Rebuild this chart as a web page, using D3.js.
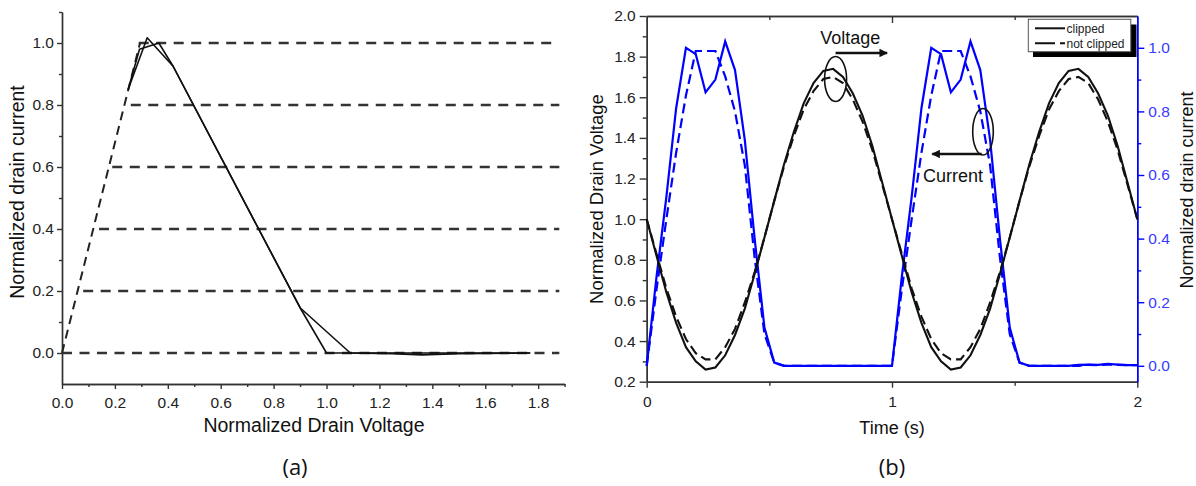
<!DOCTYPE html>
<html><head><meta charset="utf-8">
<script src="https://cdn.jsdelivr.net/npm/d3@7"></script>
<style>
body{margin:0;background:#fff;}
svg{display:block;font-family:"Liberation Sans",Arial,sans-serif;}
</style></head><body>
<svg id="c" width="1196" height="486"></svg>
<script>
// ================= Panel (a) data =================
const ivLevels      = [0.0, 0.2, 0.4, 0.6, 0.8, 1.0];
const ivLevelStartV = [0.0, 0.08, 0.14, 0.19, 0.26, 0.29];
const ivLevelEndV   = [1.88, 1.88, 1.88, 1.88, 1.88, 1.85];
const kneeV = [0.0, 0.295];
const kneeI = [0.0, 1.0];
const loadAV = [0.25, 0.322, 0.42, 0.90, 1.00, 1.77];
const loadAI = [0.85, 1.017, 0.925, 0.146, 0.0, 0.0];
const loadBV = [0.25, 0.293, 0.366, 0.42, 0.90, 1.09, 1.25, 1.36, 1.50, 1.77];
const loadBI = [0.85, 0.98, 1.00, 0.925, 0.146, 0.0, -0.002, -0.006, -0.002, 0.0];
const aXTicks = [0.0, 0.2, 0.4, 0.6, 0.8, 1.0, 1.2, 1.4, 1.6, 1.8];
const aXMinor = [0.1, 0.3, 0.5, 0.7, 0.9, 1.1, 1.3, 1.5, 1.7, 1.9];
const aYTicks = [0.0, 0.2, 0.4, 0.6, 0.8, 1.0];
const aYMinor = [0.1, 0.3, 0.5, 0.7, 0.9, 1.1];

// ================= Panel (b) data =================
const timeS = [0.00,0.04,0.08,0.12,0.16,0.20,0.24,0.28,0.32,0.36,0.40,0.44,0.48,0.52,0.56,0.60,0.64,0.68,0.72,0.76,0.80,0.84,0.88,0.92,0.96,
               1.00,1.04,1.08,1.12,1.16,1.20,1.24,1.28,1.32,1.36,1.40,1.44,1.48,1.52,1.56,1.60,1.64,1.68,1.72,1.76,1.80,1.84,1.88,1.92,1.96,2.00];
const voltClipped = [1.00,0.82,0.64,0.49,0.37,0.30,0.26,0.27,0.33,0.43,0.56,0.73,0.91,1.09,1.27,1.43,1.57,1.67,1.73,1.74,1.70,1.62,1.51,1.36,1.18,
                     1.00,0.82,0.64,0.49,0.37,0.30,0.26,0.27,0.33,0.43,0.56,0.73,0.91,1.09,1.27,1.43,1.57,1.67,1.73,1.74,1.70,1.62,1.51,1.36,1.18,1.00];
const voltNotClipped = [1.00,0.83,0.66,0.52,0.41,0.34,0.31,0.31,0.37,0.46,0.59,0.74,0.91,1.09,1.26,1.41,1.54,1.63,1.69,1.70,1.67,1.59,1.48,1.34,1.17,
                        1.00,0.83,0.66,0.52,0.41,0.34,0.31,0.31,0.37,0.46,0.59,0.74,0.91,1.09,1.26,1.41,1.54,1.63,1.69,1.70,1.67,1.59,1.48,1.34,1.17,1.00];
const currClipped = [0.00,0.28,0.53,0.81,1.00,0.98,0.86,0.90,1.02,0.93,0.71,0.40,0.12,0.01,0.00,0.00,0.00,0.00,0.00,0.00,0.00,0.00,0.00,0.00,0.00,
                     0.00,0.28,0.53,0.81,1.00,0.98,0.86,0.90,1.02,0.93,0.71,0.40,0.12,0.01,0.00,0.00,0.00,0.00,0.00,0.003,0.004,0.003,0.006,0.004,0.002,0.002];
const currNotClipped = [0.00,0.24,0.46,0.67,0.85,0.99,0.99,0.99,0.91,0.80,0.63,0.34,0.10,0.01,0.00,0.00,0.00,0.00,0.00,0.00,0.00,0.00,0.00,0.00,0.00,
                        0.00,0.24,0.46,0.67,0.85,0.99,0.99,0.99,0.91,0.80,0.63,0.34,0.10,0.01,0.00,0.00,0.00,0.00,0.00,0.00,0.003,0.002,0.004,0.003,0.002,0.002];
const bXTicks = [0, 1, 2];
const bXMinor = [0.5, 1.5];
const bY1Ticks = [0.2,0.4,0.6,0.8,1.0,1.2,1.4,1.6,1.8,2.0];
const bY1Minor = [0.3,0.5,0.7,0.9,1.1,1.3,1.5,1.7,1.9];
const bY2Ticks = [0.0,0.2,0.4,0.6,0.8,1.0];
const bY2Minor = [0.1,0.3,0.5,0.7,0.9];
const legendLabels = ["clipped", "not clipped"];

// ================= drawing =================
const svg = d3.select("#c");
const axisCol = "#333";
const blue = "#0000ff";
const blueText = "#3a3aff";

function styleAxis(g, col, fs, tcol) {
  g.select(".domain").attr("stroke", col).attr("stroke-width", 1.4);
  g.selectAll(".tick line").attr("stroke", col).attr("stroke-width", 1.4);
  g.selectAll(".tick text").attr("font-size", fs).attr("fill", tcol || "#222")
    .attr("font-family", '"Liberation Sans",Arial,sans-serif');
}

// ---------- Panel (a) ----------
const xA = d3.scaleLinear().domain([0, 1.9]).range([62, 564.6]);
const yA = d3.scaleLinear().domain([-0.1, 1.1]).range([384, 12]);

svg.append("g").attr("transform", `translate(0,${yA(-0.1)})`)
  .call(d3.axisBottom(xA).tickValues(aXMinor).tickSize(3).tickSizeOuter(0).tickFormat(""))
  .call(g => styleAxis(g, axisCol, 15));
svg.append("g").attr("transform", `translate(${xA(0)},0)`)
  .call(d3.axisLeft(yA).tickValues(aYMinor).tickSize(3).tickSizeOuter(0).tickFormat(""))
  .call(g => styleAxis(g, axisCol, 15));
svg.append("g").attr("transform", `translate(0,${yA(-0.1)})`)
  .call(d3.axisBottom(xA).tickValues(aXTicks).tickSize(5).tickSizeOuter(0).tickPadding(8).tickFormat(d3.format(".1f")))
  .call(g => styleAxis(g, axisCol, 15.5));
svg.append("g").attr("transform", `translate(${xA(0)},0)`)
  .call(d3.axisLeft(yA).tickValues(aYTicks).tickSize(5).tickSizeOuter(0).tickPadding(3).tickFormat(d3.format(".1f")))
  .call(g => styleAxis(g, axisCol, 15.5));

const lineA = d3.line().x(d => xA(d[0])).y(d => yA(d[1]));
ivLevels.forEach((lv, i) => {
  svg.append("path").attr("d", lineA([[ivLevelStartV[i], lv], [ivLevelEndV[i], lv]]))
    .attr("fill", "none").attr("stroke", "#333").attr("stroke-width", 2.3).attr("stroke-dasharray", "10,7.5");
});
svg.append("path").attr("d", lineA(kneeV.map((v, i) => [v, kneeI[i]])))
  .attr("fill", "none").attr("stroke", "#222").attr("stroke-width", 2).attr("stroke-dasharray", "9,6");
svg.append("path").attr("d", lineA(loadAV.map((v, i) => [v, loadAI[i]])))
  .attr("fill", "none").attr("stroke", "#111").attr("stroke-width", 1.6).attr("stroke-linejoin", "round");
svg.append("path").attr("d", lineA(loadBV.map((v, i) => [v, loadBI[i]])))
  .attr("fill", "none").attr("stroke", "#111").attr("stroke-width", 1.6).attr("stroke-linejoin", "round");

svg.append("text").attr("x", 314).attr("y", 432).attr("text-anchor", "middle")
  .attr("font-size", 19.5).attr("fill", "#111").text("Normalized Drain Voltage");
svg.append("text").attr("transform", "translate(24,192) rotate(-90)").attr("text-anchor", "middle")
  .attr("font-size", 19.5).attr("fill", "#111").text("Normalized drain current");
svg.append("text").attr("x", 295).attr("y", 475).attr("text-anchor", "middle")
  .attr("font-family", '"Open Sans",sans-serif').attr("font-size", 22).attr("fill", "#111").text("(a)");

// ---------- Panel (b) ----------
const xB = d3.scaleLinear().domain([0, 2]).range([646.7, 1137.3]);
const yB1 = d3.scaleLinear().domain([0.2, 2.0]).range([381.7, 16]);
const yB2 = d3.scaleLinear().domain([-0.05, 1.10]).range([381.7, 16]);

svg.append("g").attr("transform", `translate(0,${yB1(2.0)})`)
  .call(d3.axisTop(xB).tickValues(bXMinor).tickSize(-4).tickSizeOuter(0).tickFormat(""))
  .call(g => styleAxis(g, axisCol, 15));
svg.append("g").attr("transform", `translate(0,${yB1(2.0)})`)
  .call(d3.axisTop(xB).tickValues([1]).tickSize(-7).tickSizeOuter(0).tickFormat(""))
  .call(g => styleAxis(g, axisCol, 15));
svg.append("g").attr("transform", `translate(0,${yB1(0.2)})`)
  .call(d3.axisBottom(xB).tickValues(bXMinor).tickSize(4).tickSizeOuter(0).tickFormat(""))
  .call(g => styleAxis(g, axisCol, 15));
svg.append("g").attr("transform", `translate(0,${yB1(0.2)})`)
  .call(d3.axisBottom(xB).tickValues(bXTicks).tickSize(6).tickSizeOuter(0).tickPadding(8).tickFormat(d3.format("d")))
  .call(g => styleAxis(g, axisCol, 15.5));
svg.append("g").attr("transform", `translate(${xB(0)},0)`)
  .call(d3.axisLeft(yB1).tickValues(bY1Minor).tickSize(4).tickSizeOuter(0).tickFormat(""))
  .call(g => styleAxis(g, axisCol, 15));
svg.append("g").attr("transform", `translate(${xB(0)},0)`)
  .call(d3.axisLeft(yB1).tickValues(bY1Ticks).tickSize(7).tickSizeOuter(0).tickPadding(4).tickFormat(d3.format(".1f")))
  .call(g => styleAxis(g, axisCol, 15.5));
svg.append("g").attr("transform", `translate(${xB(2)},0)`)
  .call(d3.axisRight(yB2).tickValues(bY2Minor).tickSize(4).tickSizeOuter(0).tickFormat(""))
  .call(g => styleAxis(g, blue, 15, blueText));
svg.append("g").attr("transform", `translate(${xB(2)},0)`)
  .call(d3.axisRight(yB2).tickValues(bY2Ticks).tickSize(7).tickSizeOuter(0).tickPadding(4).tickFormat(d3.format(".1f")))
  .call(g => styleAxis(g, blue, 15.5, blueText));

const lineI = d3.line().x((d, i) => xB(timeS[i])).y(d => yB2(d));
const lineV = d3.line().x((d, i) => xB(timeS[i])).y(d => yB1(d));

svg.append("path").attr("d", lineI(currClipped)).attr("fill", "none").attr("stroke", blue).attr("stroke-width", 2.2);
svg.append("path").attr("d", lineI(currNotClipped)).attr("fill", "none").attr("stroke", blue).attr("stroke-width", 2.2)
  .attr("stroke-dasharray", "10,5");
svg.append("path").attr("d", lineV(voltClipped)).attr("fill", "none").attr("stroke", "#111").attr("stroke-width", 2.1);
svg.append("path").attr("d", lineV(voltNotClipped)).attr("fill", "none").attr("stroke", "#111").attr("stroke-width", 2.1)
  .attr("stroke-dasharray", "10,5");

const defs = svg.append("defs");
defs.append("marker").attr("id", "arr").attr("viewBox", "0 0 10 10").attr("refX", 9).attr("refY", 5)
  .attr("markerWidth", 6).attr("markerHeight", 3.4).attr("orient", "auto-start-reverse").attr("markerUnits", "strokeWidth")
  .append("path").attr("d", "M0,0L10,5L0,10z").attr("fill", "#111");

svg.append("ellipse").attr("cx", xB(0.77)).attr("cy", yB1(1.69)).attr("rx", 11).attr("ry", 22.5)
  .attr("fill", "none").attr("stroke", "#111").attr("stroke-width", 1.6);
svg.append("line").attr("x1", xB(0.77)).attr("y1", yB1(1.818)).attr("x2", xB(0.98)).attr("y2", yB1(1.818))
  .attr("stroke", "#111").attr("stroke-width", 2.5).attr("marker-end", "url(#arr)");
svg.append("text").attr("x", xB(0.83)).attr("y", yB1(1.864)).attr("text-anchor", "middle")
  .attr("font-size", 18).attr("fill", "#111").text("Voltage");
svg.append("ellipse").attr("cx", xB(1.371)).attr("cy", yB2(0.736)).attr("rx", 10.3).attr("ry", 23.3)
  .attr("fill", "none").attr("stroke", "#111").attr("stroke-width", 1.6);
svg.append("line").attr("x1", xB(1.366)).attr("y1", yB2(0.666)).attr("x2", xB(1.164)).attr("y2", yB2(0.666))
  .attr("stroke", "#111").attr("stroke-width", 2.5).attr("marker-end", "url(#arr)");
svg.append("text").attr("x", xB(1.249)).attr("y", yB2(0.579)).attr("text-anchor", "middle")
  .attr("font-size", 18).attr("fill", "#111").text("Current");

const lg = svg.append("g");
lg.append("rect").attr("x", 1033).attr("y", 24.5).attr("width", 103.5).attr("height", 32.5).attr("fill", "#000");
lg.append("rect").attr("x", 1028.3).attr("y", 19.3).attr("width", 102.5).attr("height", 32.4)
  .attr("fill", "#fff").attr("stroke", "#555").attr("stroke-width", 1);
lg.append("line").attr("x1", 1035).attr("x2", 1065).attr("y1", 28.3).attr("y2", 28.3).attr("stroke", "#111").attr("stroke-width", 2);
lg.append("line").attr("x1", 1035).attr("x2", 1066).attr("y1", 43.3).attr("y2", 43.3).attr("stroke", "#111").attr("stroke-width", 2)
  .attr("stroke-dasharray", "20,5,5,1");
legendLabels.forEach((t, i) => {
  lg.append("text").attr("x", 1066.5).attr("y", 32.5 + i * 15).attr("font-size", 12).attr("fill", "#222").text(t);
});

svg.append("text").attr("x", 892).attr("y", 434).attr("text-anchor", "middle")
  .attr("font-size", 18).attr("fill", "#111").text("Time (s)");
svg.append("text").attr("transform", "translate(603,199) rotate(-90)").attr("text-anchor", "middle")
  .attr("font-size", 18.5).attr("fill", "#111").text("Normalized Drain Voltage");
svg.append("text").attr("transform", "translate(1193,190) rotate(-90)").attr("text-anchor", "middle")
  .attr("font-size", 18).attr("fill", "#111").text("Normalized drain current");
svg.append("text").attr("x", 892).attr("y", 475).attr("text-anchor", "middle")
  .attr("font-family", '"Open Sans",sans-serif').attr("font-size", 22).attr("fill", "#111").text("(b)");
</script>
</body></html>
